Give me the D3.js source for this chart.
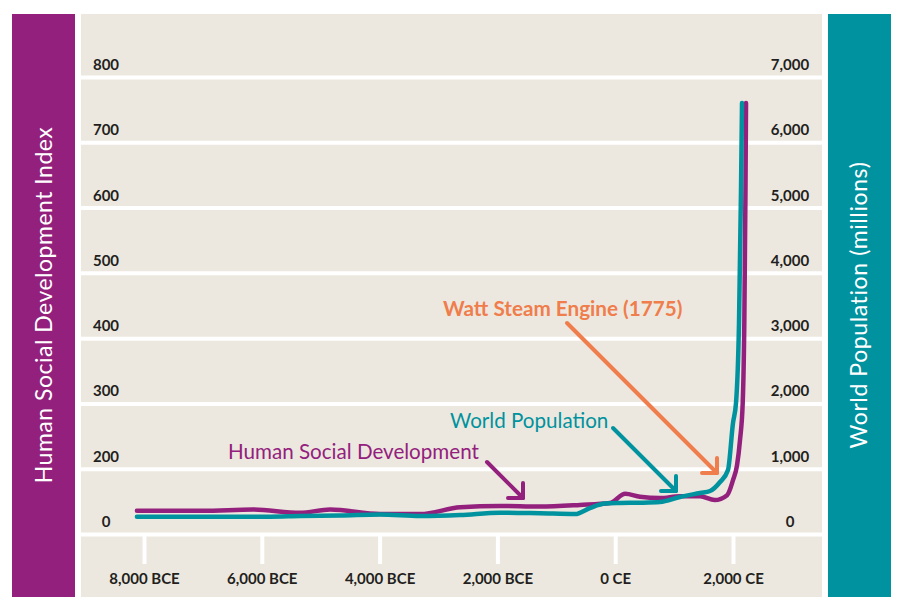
<!DOCTYPE html>
<html>
<head>
<meta charset="utf-8">
<script src="https://cdn.jsdelivr.net/npm/d3@7"></script>
<style>
  body { margin: 0; background: #fff; }
  text { font-family: Lato, "Open Sans", sans-serif; }
  .tick text { font-weight: 700; fill: #231f20; font-size: 15px; }
</style>
</head>
<body>
<div id="chart"></div>
<script>
// years are negative for BCE
var yearTicks = [-8000, -6000, -4000, -2000, 0, 2000];
var yearLabels = ["8,000 BCE", "6,000 BCE", "4,000 BCE", "2,000 BCE", "0 CE", "2,000 CE"];

var devTicks = [0, 200, 300, 400, 500, 600, 700, 800];
var popTicks = [0, 1000, 2000, 3000, 4000, 5000, 6000, 7000];

// Human social development (left axis)
var devYears = [-8120, -7000, -6150, -5350, -4840, -3990, -3310, -2630, -1960, -1280, -600, -90, 170, 420, 760, 1100, 1440, 1690, 1900, 2000, 2068, 2119, 2165, 2192, 2212, 2221];
var devValues = [71, 71, 75, 65, 75, 61, 61, 82, 86, 84, 89, 95, 123, 114, 110, 116, 116, 104, 119, 165, 205, 244, 301, 423, 627, 760];

// World population, millions (right axis)
var popYears = [-8120, -7050, -5860, -5350, -4670, -3990, -3310, -2630, -1960, -1280, -680, -430, -170, 80, 420, 760, 1100, 1440, 1610, 1780, 1915, 2000, 2051, 2102, 2136, 2153];
var popValues = [265, 265, 265, 276, 283, 299, 276, 291, 326, 317, 306, 398, 467, 475, 479, 490, 567, 628, 659, 796, 980, 1700, 2006, 3232, 5269, 6601];

var w = 904;
var h = 610;

var svg = d3.select("#chart")
  .append("svg")
  .attr("width", w)
  .attr("height", h);

// side bars and panel
svg.append("rect").attr("x", 12).attr("y", 14).attr("width", 63).attr("height", 583).attr("fill", "#93207d");
svg.append("rect").attr("x", 81).attr("y", 14).attr("width", 741).attr("height", 583).attr("fill", "#ece8df");
svg.append("rect").attr("x", 828).attr("y", 14).attr("width", 63).attr("height", 583).attr("fill", "#00929e");

svg.append("text")
  .attr("transform", "translate(52,305) rotate(-90)")
  .attr("text-anchor", "middle")
  .attr("fill", "#fff")
  .style("font-size", "23px")
  .style("letter-spacing", "0.5px")
  .text("Human Social Development Index");

svg.append("text")
  .attr("transform", "translate(867,305) rotate(-90)")
  .attr("text-anchor", "middle")
  .attr("fill", "#fff")
  .style("font-size", "23px")
  .style("letter-spacing", "0.6px")
  .text("World Population (millions)");

// scales
var x = d3.scaleLinear().domain([-8000, 2000]).range([144, 733]);
var yPop = d3.scaleLinear().domain([0, 7000]).range([534, 77]);
var yDev = d3.scaleLinear().domain([0, 200, 800]).range([534, yPop(1000), 77]);

// gridlines
var grid = svg.append("g")
  .attr("transform", "translate(81,0)")
  .call(d3.axisLeft(yPop).tickValues(popTicks).tickSize(-741).tickFormat(""));
grid.select(".domain").remove();
grid.selectAll("line").attr("stroke", "#fff").attr("stroke-width", 4);

// left labels
svg.selectAll(".devlab")
  .data(devTicks)
  .enter()
  .append("text")
  .attr("class", "devlab")
  .attr("x", 106)
  .attr("y", function(d) { return yDev(d) - 7; })
  .attr("text-anchor", "middle")
  .attr("fill", "#231f20")
  .style("font-size", "15px")
  .style("font-weight", "700")
  .text(function(d) { return d; });

// right labels
svg.selectAll(".poplab")
  .data(popTicks)
  .enter()
  .append("text")
  .attr("class", "poplab")
  .attr("x", 790)
  .attr("y", function(d) { return yPop(d) - 7; })
  .attr("text-anchor", "middle")
  .attr("fill", "#231f20")
  .style("font-size", "15px")
  .style("font-weight", "700")
  .text(function(d) { return d3.format(",")(d); });

// x axis
var xAxis = svg.append("g")
  .attr("transform", "translate(0,534)")
  .call(d3.axisBottom(x).tickValues(yearTicks).tickSize(30).tickPadding(9)
    .tickFormat(function(d, i) { return yearLabels[i]; }));
xAxis.select(".domain").remove();
xAxis.selectAll("line").attr("stroke", "#fff").attr("stroke-width", 4);

// series
var devLine = d3.line()
  .x(function(d, i) { return x(devYears[i]); })
  .y(function(d) { return yDev(d); })
  .curve(d3.curveMonotoneX);

var popLine = d3.line()
  .x(function(d, i) { return x(popYears[i]); })
  .y(function(d) { return yPop(d); })
  .curve(d3.curveMonotoneX);

svg.append("path")
  .attr("d", devLine(devValues))
  .attr("fill", "none")
  .attr("stroke", "#93207d")
  .attr("stroke-width", 4.5)
  .attr("stroke-linecap", "round")
  .attr("stroke-linejoin", "round");

svg.append("path")
  .attr("d", popLine(popValues))
  .attr("fill", "none")
  .attr("stroke", "#00929e")
  .attr("stroke-width", 4.5)
  .attr("stroke-linecap", "round")
  .attr("stroke-linejoin", "round");

// annotations: label, arrow start, arrow tip
function annotate(label, color, tx, ty, size, weight, x1, y1, x2, y2) {
  svg.append("text")
    .attr("x", tx)
    .attr("y", ty)
    .attr("fill", color)
    .style("font-size", size + "px")
    .style("font-weight", weight)
    .text(label);
  var g = svg.append("g")
    .attr("fill", "none")
    .attr("stroke", color)
    .attr("stroke-width", 4)
    .attr("stroke-linecap", "round")
    .attr("stroke-linejoin", "round");
  g.append("line").attr("x1", x1).attr("y1", y1).attr("x2", x2).attr("y2", y2);
  g.append("path").attr("d", "M" + x2 + "," + (y2 - 15) + "L" + x2 + "," + y2 + "L" + (x2 - 15) + "," + y2);
}

annotate("Human Social Development", "#93207d", 228, 459, 20.6, 400, 487, 462, 523, 498);
annotate("World Population", "#00929e", 450, 428, 20.6, 400, 613, 428, 676, 491);
annotate("Watt Steam Engine (1775)", "#f07d4c", 443, 316, 20.7, 700, 567, 323, 717, 473);
</script>
</body>
</html>
